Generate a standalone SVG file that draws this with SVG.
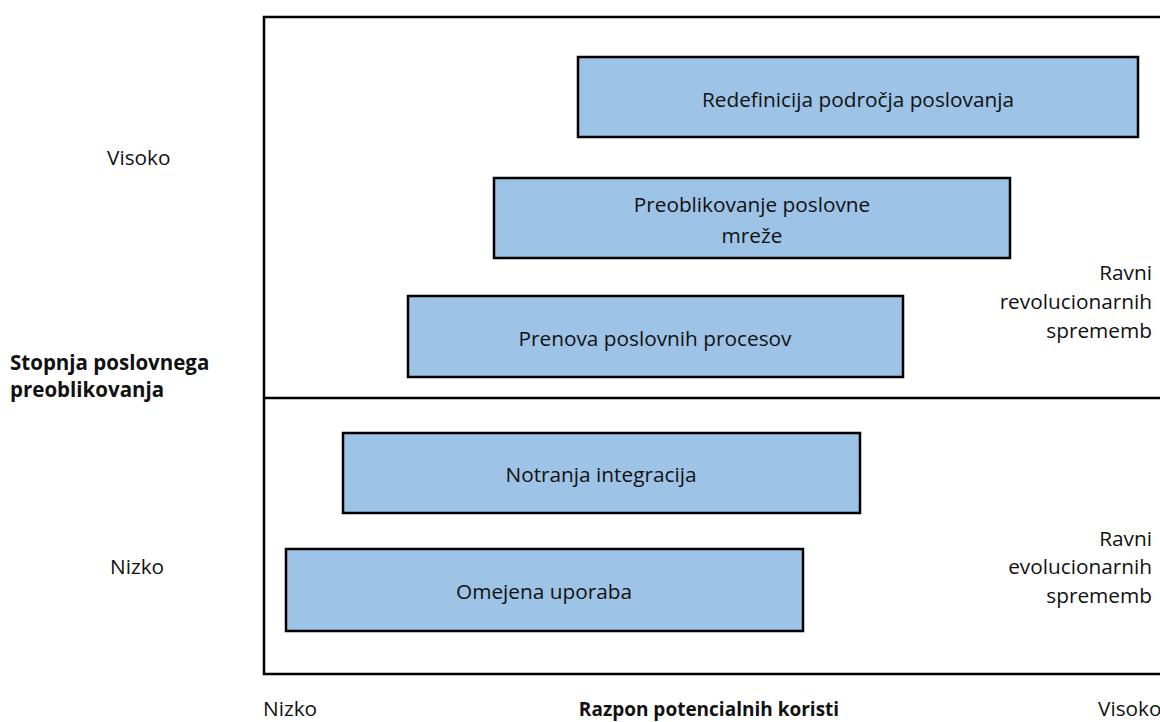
<svg xmlns="http://www.w3.org/2000/svg" width="1160" height="722" viewBox="0 0 1160 722">
  <style>
    text { font-family: "Open Sans", "Liberation Sans", sans-serif; font-size: 20.8px; fill: #111; }
    .bold { font-weight: bold; font-size: 20.5px; }
    .axis { font-size: 19px; }
    .mid { text-anchor: middle; }
    .end { text-anchor: end; }
    .box { fill: #9dc3e6; stroke: #000; stroke-width: 2.5; }
    .frame { fill: none; stroke: #000; stroke-width: 2.5; }
  </style>
  <rect width="1160" height="722" fill="#fff"/>

  <!-- chart frame and divider between revolutionary and evolutionary levels -->
  <g id="frame">
    <polyline class="frame" points="1162,17 264,17 264,674 1162,674"/>
    <line class="frame" x1="264" y1="398" x2="1162" y2="398"/>
  </g>

  <g id="redefinicija">
    <rect class="box" x="578" y="57" width="560" height="80"/>
    <text class="mid" x="858" y="107">Redefinicija področja poslovanja</text>
  </g>
  <g id="preoblikovanje">
    <rect class="box" x="494" y="178" width="516" height="80"/>
    <text class="mid" x="752" y="212">Preoblikovanje poslovne</text>
    <text class="mid" x="752" y="243">mreže</text>
  </g>
  <g id="prenova">
    <rect class="box" x="408" y="296" width="495" height="81"/>
    <text class="mid" x="655" y="346">Prenova poslovnih procesov</text>
  </g>
  <g id="notranja">
    <rect class="box" x="343" y="433" width="517" height="80"/>
    <text class="mid" x="601" y="482">Notranja integracija</text>
  </g>
  <g id="omejena">
    <rect class="box" x="286" y="549" width="517" height="82"/>
    <text class="mid" x="544" y="599">Omejena uporaba</text>
  </g>

  <!-- axis labels -->
  <g id="y-axis">
    <text x="107" y="165">Visoko</text>
    <text x="110" y="574">Nizko</text>
    <text class="bold" x="10" y="370">Stopnja poslovnega</text>
    <text class="bold" x="10" y="397">preoblikovanja</text>
  </g>
  <g id="x-axis">
    <text x="263" y="716">Nizko</text>
    <text class="bold axis mid" x="709" y="716">Razpon potencialnih koristi</text>
    <text x="1098" y="716">Visoko</text>
  </g>
  <g id="levels">
    <text class="end" x="1152" y="280">Ravni</text>
    <text class="end" x="1152" y="309">revolucionarnih</text>
    <text class="end" x="1152" y="338">sprememb</text>
    <text class="end" x="1152" y="546">Ravni</text>
    <text class="end" x="1152" y="574">evolucionarnih</text>
    <text class="end" x="1152" y="603">sprememb</text>
  </g>
</svg>
